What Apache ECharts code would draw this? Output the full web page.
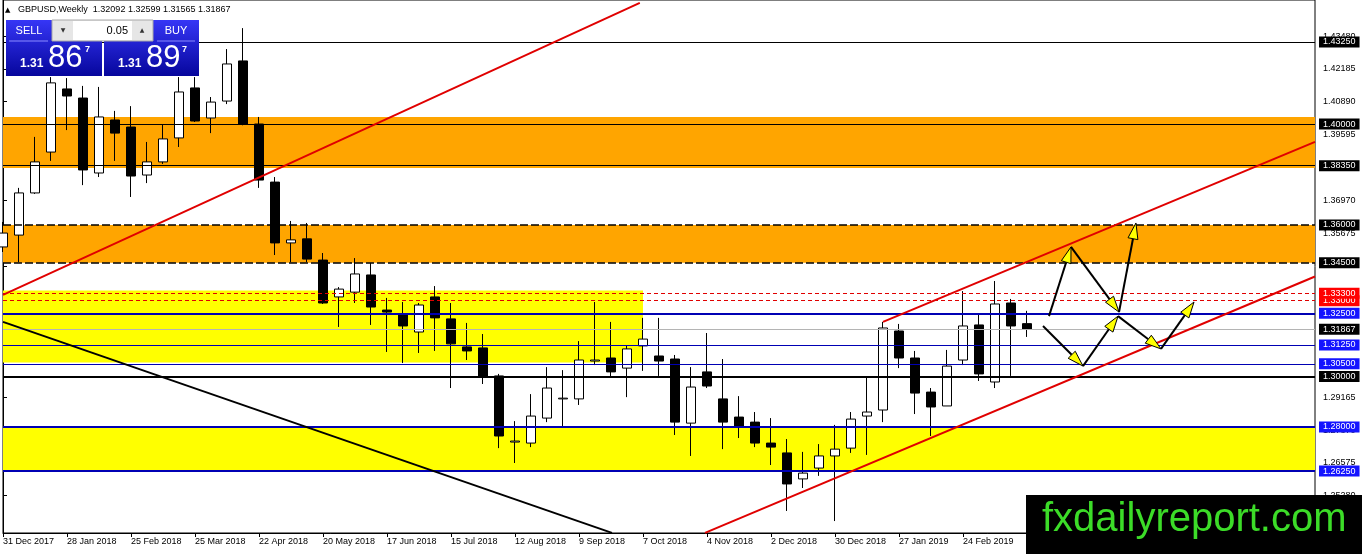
<!DOCTYPE html>
<html>
<head>
<meta charset="utf-8">
<title>GBPUSD Weekly</title>
<script src="https://cdn.jsdelivr.net/npm/echarts@6.0.0/dist/echarts.min.js"></script>
<style>
  html, body { margin: 0; padding: 0; background: #fff; }
  #chart { width: 1362px; height: 554px; }
</style>
</head>
<body>
<div id="chart"></div>
<script>
// weekly candles, first one is the week of 31 Dec 2017
var open = [1.3513,1.3560,1.3727,1.3889,1.4139,1.4103,1.3806,1.4016,1.3988,1.3798,
  1.3850,1.3945,1.4143,1.4024,1.4091,1.4250,1.4000,1.3770,1.3529,1.3545,
  1.3461,1.3315,1.3334,1.3402,1.3263,1.3247,1.3176,1.3315,1.3228,1.3117,
  1.3113,1.3002,1.2740,1.2736,1.2835,1.2911,1.2911,1.3061,1.3073,1.3033,
  1.3121,1.3081,1.3069,1.2815,1.3018,1.2911,1.2839,1.2819,1.2736,1.2697,
  1.2594,1.2637,1.2685,1.2716,1.2843,1.2867,1.3180,1.3073,1.2938,1.2883,
  1.3065,1.3204,1.2978,1.3291,1.32092];
var close = [1.3568,1.3727,1.3850,1.4163,1.4111,1.3818,1.4028,1.3964,1.3794,1.3850,
  1.3941,1.4127,1.4012,1.4087,1.4238,1.4000,1.3778,1.3529,1.3541,1.3465,
  1.3291,1.3346,1.3406,1.3275,1.3255,1.3200,1.3283,1.3232,1.3129,1.3101,
  1.2998,1.2764,1.2744,1.2843,1.2954,1.2914,1.3065,1.3065,1.3018,1.3109,
  1.3148,1.3061,1.2819,1.2958,1.2962,1.2819,1.2800,1.2736,1.2720,1.2574,
  1.2617,1.2685,1.2712,1.2831,1.2859,1.3192,1.3073,1.2934,1.2879,1.3041,
  1.3200,1.3010,1.3287,1.3200,1.31867];
var low = [1.3493,1.3453,1.3723,1.3854,1.3976,1.3758,1.3790,1.3854,1.3711,1.3766,
  1.3842,1.3909,1.4008,1.3964,1.4079,1.3995,1.3747,1.3481,1.3453,1.3453,
  1.3287,1.3196,1.3291,1.3204,1.3097,1.3053,1.3093,1.3101,1.2954,1.3065,
  1.2970,1.2716,1.2657,1.2720,1.2819,1.2796,1.2887,1.3045,1.2998,1.2918,
  1.3022,1.3002,1.2768,1.2685,1.2954,1.2712,1.2756,1.2720,1.2649,1.2467,
  1.2558,1.2606,1.2427,1.2697,1.2689,1.2819,1.3033,1.2851,1.2764,1.2883,
  1.3045,1.2982,1.2954,1.3002,1.31565];
var high = [1.3612,1.3747,1.3949,1.4186,1.4182,1.4151,1.4147,1.4052,1.4071,1.3929,
  1.4000,1.4186,1.4186,1.4107,1.4297,1.4380,1.4028,1.3790,1.3616,1.3608,
  1.3489,1.3354,1.3469,1.3449,1.3311,1.3295,1.3291,1.3358,1.3291,1.3212,
  1.3168,1.3010,1.2823,1.2930,1.3037,1.3025,1.3140,1.3295,1.3216,1.3121,
  1.3232,1.3232,1.3085,1.3037,1.3172,1.3069,1.2922,1.2859,1.2835,1.2752,
  1.2701,1.2732,1.2808,1.2859,1.2998,1.3216,1.3208,1.3101,1.2954,1.3105,
  1.3338,1.3247,1.3378,1.3307,1.32599];

// date labels, one every 4 weeks
var weekLabels = ['31 Dec 2017','28 Jan 2018','25 Feb 2018','25 Mar 2018','22 Apr 2018',
  '20 May 2018','17 Jun 2018','15 Jul 2018','12 Aug 2018','9 Sep 2018','7 Oct 2018',
  '4 Nov 2018','2 Dec 2018','30 Dec 2018','27 Jan 2019','24 Feb 2019'];
var slotCount = 83;              // weeks on screen, incl. empty space on the right
var priceMin = 1.23797, priceMax = 1.44914;
var priceTicks = [1.43480,1.42185,1.40890,1.39595,1.38300,1.36970,1.35675,1.34380,
  1.33085,1.31790,1.30495,1.29165,1.27870,1.26575,1.25280];

// horizontal levels (drawn low to high so upper boxes sit on top)
var levels = [1.26250,1.28000,1.30000,1.30500,1.31250,1.31867,1.32500,1.33000,1.33300,
  1.34500,1.36000,1.38350,1.40000,1.43250];
var levelKinds = ['blueBold','blueBold','blackBold','blue','blue','bid','blueBold','red','red',
  'dash','dash','black','black','black'];

// zones [top, bottom, toWeek]
var orangeZones = [[1.4028,1.3826],[1.3600,1.3450]];
var yellowZones = [[1.3340,1.3055,40],[1.2800,1.2625]];

// trend lines, [week, price] pairs
var redLines = [
  [[0,1.3323],[39.8,1.4480]],
  [[43.875,1.2380],[82,1.3396]],
  [[55,1.3216],[82,1.3929]]
];
var blackLines = [[[0,1.3216],[38.06,1.2380]]];

// projected paths
var pathUp = [[65.375,1.3239],[66.75,1.3513],[69.75,1.3255],[70.81,1.3608]];
var pathDown = [[65.0,1.3200],[67.5,1.3041],[69.69,1.3239],[72.375,1.3109],[74.44,1.3295]];

var askPrice = 1.31897;

var kindStyle = {
  blueBold: { color: '#0000b4', width: 2, type: 'solid', box: '#1414ff' },
  blue: { color: '#0000b4', width: 1, type: 'solid', box: '#1414ff' },
  black: { color: '#000', width: 1, type: 'solid', box: '#000' },
  blackBold: { color: '#000', width: 2, type: 'solid', box: '#000' },
  dash: { color: '#000', width: 1.5, type: [8, 3], box: '#000' },
  red: { color: '#e00000', width: 1, type: [4, 3], box: '#ff0000' },
  bid: { color: '#b4b4b4', width: 1, type: 'solid', box: '#000' }
};

var slots = [];
for (var i = 0; i < slotCount; i++) slots.push(String(i));
var candles = open.map(function (o, i) { return [o, close[i], low[i], high[i]]; });

function isLabelSlot(i) { return i % 4 === 0 && i / 4 < weekLabels.length; }

var zoneData = [];
orangeZones.forEach(function (z) {
  zoneData.push([{ yAxis: z[0], itemStyle: { color: '#ffa500', opacity: 1 } }, { yAxis: z[1] }]);
});
yellowZones.forEach(function (z) {
  if (z.length > 2) {
    zoneData.push([{ xAxis: 0, yAxis: z[0], itemStyle: { color: '#ffff00', opacity: 1 } }, { xAxis: z[2], yAxis: z[1] }]);
  } else {
    zoneData.push([{ yAxis: z[0], itemStyle: { color: '#ffff00', opacity: 1 } }, { yAxis: z[1] }]);
  }
});

var levelData = levels.map(function (v, i) {
  var s = kindStyle[levelKinds[i]];
  return {
    yAxis: v,
    lineStyle: { color: s.color, width: s.width, type: s.type },
    label: {
      show: true, position: 'end', distance: 4, formatter: v.toFixed(5),
      backgroundColor: s.box, color: '#fff', fontSize: 9, lineHeight: 10,
      padding: [1, 4, 0, 4], fontFamily: 'Liberation Sans'
    }
  };
});

function toSegments(path) {
  var out = [];
  for (var k = 1; k < path.length; k++) {
    out.push([path[k - 1][0], path[k - 1][1], path[k][0], path[k][1]]);
  }
  return out;
}
var arrowSegs = toSegments(pathUp).concat(toSegments(pathDown));

function renderArrow(params, api) {
  var s = api.coord([api.value(0), api.value(1)]);
  var e = api.coord([api.value(2), api.value(3)]);
  var dx = e[0] - s[0], dy = e[1] - s[1];
  var len = Math.sqrt(dx * dx + dy * dy);
  var ux = dx / len, uy = dy / len;
  var L = 16, W = 5;
  var bx = e[0] - ux * L, by = e[1] - uy * L;
  return {
    type: 'group',
    children: [
      { type: 'line', shape: { x1: s[0], y1: s[1], x2: bx, y2: by }, style: { stroke: '#000', lineWidth: 2 } },
      { type: 'polygon', shape: { points: [[e[0], e[1]], [bx - uy * W, by + ux * W], [bx + uy * W, by - ux * W]] },
        style: { fill: '#ffff00', stroke: '#000', lineWidth: 1 } }
    ]
  };
}

var series = [
  { type: 'line', xAxisIndex: 1, data: [], z: 1, silent: true,
    markArea: { silent: true, precision: 5, data: zoneData } },
  { type: 'candlestick', xAxisIndex: 0, data: candles, barWidth: 10, z: 3, clip: true,
    itemStyle: { color: '#fff', color0: '#000', borderColor: '#000', borderColor0: '#000',
      borderColorDoji: '#000', borderWidth: 1 } },
  { type: 'line', xAxisIndex: 1, data: [], z: 5, silent: true,
    markLine: { silent: true, precision: 5, symbol: ['none', 'none'], data: levelData } }
];
redLines.forEach(function (pts) {
  series.push({ type: 'line', xAxisIndex: 1, data: pts, showSymbol: false, z: 6, silent: true,
    lineStyle: { color: '#e00000', width: 2 } });
});
blackLines.forEach(function (pts) {
  series.push({ type: 'line', xAxisIndex: 1, data: pts, showSymbol: false, z: 6, silent: true,
    lineStyle: { color: '#000', width: 2 } });
});
series.push({ type: 'custom', xAxisIndex: 1, data: arrowSegs, z: 7, silent: true,
  encode: { x: [0, 2], y: [1, 3] }, renderItem: renderArrow });

// trading panel split of a price: "1.31" "86" "7"
function splitPrice(p) {
  var t = p.toFixed(5);
  return [t.slice(0, 4), t.slice(4, 6), t.slice(6)];
}
var last = open.length - 1;
var headerText = 'GBPUSD,Weekly  ' + [open[last], high[last], low[last], close[last]]
  .map(function (v) { return v.toFixed(5); }).join(' ');
var sellParts = splitPrice(close[last]);
var buyParts = splitPrice(askPrice);

function blueFill() {
  return new echarts.graphic.LinearGradient(0, 0, 0, 1, [
    { offset: 0, color: '#3636f6' }, { offset: 1, color: '#06069c' }
  ]);
}
function txt(x, y, text, size, color, extra) {
  var st = { x: x, y: y, text: text, fill: color, fontSize: size,
    fontFamily: 'Liberation Sans', verticalAlign: 'middle', align: 'left' };
  if (extra) for (var k in extra) st[k] = extra[k];
  return { type: 'text', z: 110, style: st };
}

var graphics = [
  txt(5, 10, '\u25B2', 7, '#000', { fontFamily: 'DejaVu Sans' }),
  txt(18, 10, headerText, 9, '#000'),
  { type: 'rect', z: 100, shape: { x: 6, y: 20, width: 96, height: 56 }, style: { fill: blueFill() } },
  { type: 'rect', z: 100, shape: { x: 104, y: 20, width: 95, height: 56 }, style: { fill: blueFill() } },
  { type: 'line', z: 101, shape: { x1: 9, y1: 41, x2: 48, y2: 41 }, style: { stroke: '#8a8aff', lineWidth: 1 } },
  { type: 'line', z: 101, shape: { x1: 157, y1: 41, x2: 195, y2: 41 }, style: { stroke: '#8a8aff', lineWidth: 1 } },
  { type: 'rect', z: 101, shape: { x: 52, y: 20, width: 101, height: 21 }, style: { fill: '#e6e6e6', stroke: '#a8a8a8' } },
  { type: 'rect', z: 102, shape: { x: 73, y: 21, width: 59, height: 19 }, style: { fill: '#fff' } },
  txt(29, 31, 'SELL', 11, '#fff', { align: 'center' }),
  txt(176, 31, 'BUY', 11, '#fff', { align: 'center' }),
  txt(128, 31, '0.05', 11, '#000', { align: 'right' }),
  txt(63, 30, '\u25BC', 6, '#333', { align: 'center', fontFamily: 'DejaVu Sans' }),
  txt(142, 30, '\u25B2', 6, '#333', { align: 'center', fontFamily: 'DejaVu Sans' }),
  txt(20, 64, sellParts[0], 12, '#fff', { fontWeight: 'bold' }),
  txt(48, 58, sellParts[1], 31, '#fff'),
  txt(85, 50, sellParts[2], 9, '#fff', { fontWeight: 'bold' }),
  txt(118, 64, buyParts[0], 12, '#fff', { fontWeight: 'bold' }),
  txt(146, 58, buyParts[1], 31, '#fff'),
  txt(182, 50, buyParts[2], 9, '#fff', { fontWeight: 'bold' }),
  { type: 'rect', z: 100, shape: { x: 1026, y: 495, width: 336, height: 59 }, style: { fill: '#000' } },
  txt(1042, 520, 'fxdailyreport.com', 40, '#3cdc28')
];

var myChart = echarts.init(document.getElementById('chart'));
var option = {
  animation: false,
  backgroundColor: '#fff',
  textStyle: { fontFamily: 'Liberation Sans' },
  grid: { left: 3, right: 47, top: 0, bottom: 21, show: true, borderColor: '#000', borderWidth: 1, backgroundColor: '#fff' },
  xAxis: [
    {
      type: 'category', data: slots, boundaryGap: false,
      axisLine: { lineStyle: { color: '#000', width: 1 } },
      axisTick: { interval: isLabelSlot, length: 4, lineStyle: { color: '#000' } },
      axisLabel: {
        interval: isLabelSlot, align: 'left', margin: 4, fontSize: 9, color: '#000',
        formatter: function (v, idx) { return weekLabels[idx / 4]; }
      },
      splitLine: { show: false }
    },
    { type: 'value', min: 0, max: slotCount - 1, show: false }
  ],
  yAxis: {
    type: 'value', position: 'right', min: priceMin, max: priceMax,
    axisLine: { show: true, lineStyle: { color: '#000' } },
    axisTick: { show: true, length: 4, customValues: priceTicks, lineStyle: { color: '#000' } },
    axisLabel: { customValues: priceTicks, fontSize: 9, color: '#000', margin: 8,
      formatter: function (v) { return v.toFixed(5); } },
    splitLine: { show: false }
  },
  series: series,
  graphic: { elements: graphics }
};
option && myChart.setOption(option);
</script>
</body>
</html>
